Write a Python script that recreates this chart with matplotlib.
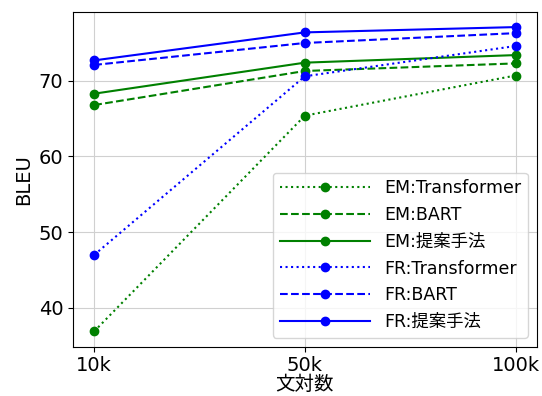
import matplotlib
matplotlib.use("Agg")
import matplotlib.pyplot as plt

plt.rcParams['font.family'] = ['DejaVu Sans', 'Noto Sans CJK JP']

categories = ["10k", "50k", "100k"]
em_transformer = [36.9, 65.4, 70.7]
em_bart = [66.8, 71.3, 72.3]
em_proposed = [68.3, 72.4, 73.4]
fr_transformer = [47.0, 70.6, 74.6]
fr_bart = [72.1, 75.0, 76.3]
fr_proposed = [72.7, 76.4, 77.1]

series = [
    ("EM:Transformer", em_transformer, "green", ":"),
    ("EM:BART", em_bart, "green", "--"),
    ("EM:提案手法", em_proposed, "green", "-"),
    ("FR:Transformer", fr_transformer, "blue", ":"),
    ("FR:BART", fr_bart, "blue", "--"),
    ("FR:提案手法", fr_proposed, "blue", "-"),
]

fig, ax = plt.subplots(figsize=(5.42, 3.96), dpi=100)
x = list(range(len(categories)))
for label, vals, color, ls in series:
    ax.plot(x, vals, color=color, linestyle=ls, marker="o", markersize=6,
            linewidth=1.5, label=label)

ax.set_xticks(x)
ax.set_xticklabels(categories)
ax.tick_params(labelsize=14)
ax.set_xlabel("文対数", fontsize=14, labelpad=0)
ax.set_ylabel("BLEU", fontsize=14)
ax.grid(True, color="#d0d0d0")
ax.legend(loc="lower right", fontsize=12.5, handlelength=5.2)
fig.subplots_adjust(left=0.135, right=0.99, top=0.97, bottom=0.125)
fig.savefig("out.png", dpi=100)
